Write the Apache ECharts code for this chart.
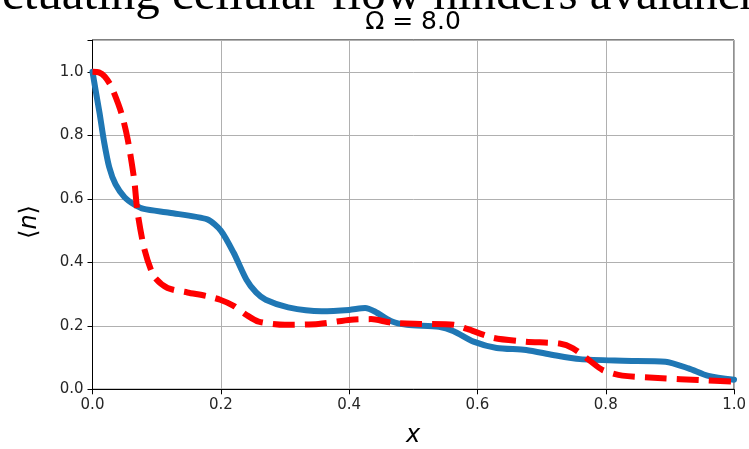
<!DOCTYPE html>
<html>
<head>
<meta charset="utf-8">
<script src="https://cdn.jsdelivr.net/npm/echarts@6/dist/echarts.min.js"></script>
<style>
  html, body { margin: 0; padding: 0; background: #fff; }
  #chart { width: 749px; height: 449px; }
</style>
</head>
<body>
<div id="chart"></div>
<script>
// Mean occupation <n> along x for Ω = 8.0
const titleText = 'Ω = 8.0';
const headerText = 'ctuating cellular flow hinders avalanches';
const xTicks = [0, 0.2, 0.4, 0.6, 0.8, 1.0];
const yTicks = [0, 0.2, 0.4, 0.6, 0.8, 1.0];

// solid blue curve: x positions and values
const blueX = [0, 0.005, 0.011, 0.018, 0.026, 0.036, 0.05, 0.065, 0.08, 0.12, 0.179, 0.2, 0.22, 0.24, 0.255, 0.27, 0.305, 0.357, 0.4, 0.425, 0.44, 0.465, 0.49, 0.54, 0.563, 0.594, 0.63, 0.676, 0.718, 0.76, 0.826, 0.893, 0.929, 0.96, 1.0];
const blueY = [1.0, 0.94, 0.87, 0.78, 0.70, 0.645, 0.605, 0.582, 0.568, 0.556, 0.535, 0.5, 0.43, 0.345, 0.305, 0.282, 0.258, 0.246, 0.25, 0.256, 0.245, 0.215, 0.203, 0.197, 0.183, 0.15, 0.13, 0.124, 0.108, 0.095, 0.09, 0.087, 0.066, 0.042, 0.03];

// dashed red curve: x positions and values
const redX = [0, 0.01, 0.019, 0.029, 0.045, 0.055, 0.065, 0.07, 0.081, 0.096, 0.117, 0.148, 0.179, 0.199, 0.22, 0.24, 0.259, 0.3, 0.352, 0.403, 0.434, 0.465, 0.511, 0.563, 0.584, 0.625, 0.676, 0.728, 0.749, 0.774, 0.795, 0.826, 0.888, 0.944, 1.0];
const redY = [1.0, 0.998, 0.985, 0.955, 0.87, 0.786, 0.66, 0.56, 0.44, 0.355, 0.319, 0.305, 0.293, 0.282, 0.263, 0.234, 0.213, 0.203, 0.206, 0.219, 0.221, 0.21, 0.206, 0.203, 0.19, 0.162, 0.15, 0.144, 0.129, 0.092, 0.061, 0.043, 0.035, 0.029, 0.024];

const pairs = (xs, ys) => xs.map((x, i) => [x, ys[i]]);
const fmt = v => v.toFixed(1);

const chart = echarts.init(document.getElementById('chart'), null, { renderer: 'canvas' });
const tickFont = { fontFamily: 'DejaVu Sans', fontSize: 15, color: '#262626' };

chart.setOption({
  animation: false,
  backgroundColor: '#fff',
  grid: {
    left: 92.5, right: 9.7, top: 40, bottom: 59.7,
    show: true, borderColor: '#000', borderWidth: 1, backgroundColor: 'transparent'
  },
  xAxis: {
    type: 'value', min: 0, max: 1, interval: 0.2,
    axisLine: { show: true, onZero: false, lineStyle: { color: '#000', width: 1 } },
    axisTick: { show: true, length: 5, lineStyle: { color: '#000' } },
    axisLabel: Object.assign({ margin: 8, formatter: fmt }, tickFont),
    splitLine: { show: true, lineStyle: { color: '#b0b0b0', width: 1 } }
  },
  yAxis: {
    type: 'value', min: 0, max: 1.1, interval: 0.2,
    axisLine: { show: true, onZero: false, lineStyle: { color: '#000', width: 1 } },
    axisTick: { show: true, length: 5, lineStyle: { color: '#000' } },
    axisLabel: Object.assign({ margin: 9, formatter: v => (yTicks.some(t => Math.abs(t - v) < 1e-9) ? fmt(v) : '') }, tickFont),
    splitLine: { show: true, lineStyle: { color: '#b0b0b0', width: 1 } }
  },
  series: [
    {
      type: 'line', data: pairs(blueX, blueY), showSymbol: false, smooth: 0.25,
      lineStyle: { color: '#1f77b4', width: 6, cap: 'round', join: 'round' },
      z: 2
    },
    {
      type: 'line', data: pairs(redX, redY), showSymbol: false, smooth: 0.25,
      lineStyle: { color: '#ff0000', width: 6, type: [22, 10], cap: 'butt', join: 'round' },
      z: 3
    }
  ],
  graphic: [
    {
      type: 'text', z: 10,
      style: { text: headerText, x: 2, y: 21, font: '49px "Liberation Serif"', fill: '#000', verticalAlign: 'bottom', align: 'left' }
    },
    {
      type: 'text', z: 10,
      style: { text: titleText, x: 413, y: 22.5, font: '25px "DejaVu Sans"', fill: '#000', align: 'center', verticalAlign: 'middle' }
    },
    {
      type: 'text', z: 10, x: 30, y: 222, rotation: Math.PI / 2,
      style: {
        text: '{a|⟨}{b|n}{a|⟩}', align: 'center', verticalAlign: 'middle', fill: '#000',
        rich: {
          a: { fontFamily: 'DejaVu Sans', fontSize: 24 },
          b: { fontFamily: 'DejaVu Sans', fontSize: 24, fontStyle: 'italic' }
        }
      }
    },
    {
      type: 'text', z: 10,
      style: { text: 'x', x: 413, y: 436, font: 'italic 24px "DejaVu Sans"', fill: '#000', align: 'center', verticalAlign: 'middle' }
    }
  ]
});
</script>
</body>
</html>
